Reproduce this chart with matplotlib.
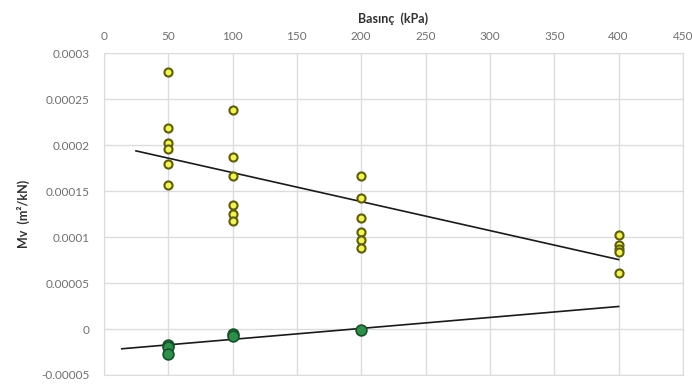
import matplotlib.pyplot as plt

plt.rcParams["font.family"] = ["Lato", "DejaVu Sans"]

# Mv values, grouped by pressure (kPa)
yellow_x = [50] * 6 + [100] * 6 + [200] * 6 + [400] * 5
yellow_y = [
    0.000280, 0.000219, 0.000202, 0.000196, 0.000179, 0.000157,
    0.000238, 0.000187, 0.000166, 0.000135, 0.000125, 0.000117,
    0.000166, 0.000143, 0.000121, 0.000105, 0.000097, 0.000088,
    0.000102, 0.000091, 0.000087, 0.000084, 0.000061,
]
green_x = [50, 50, 50, 100, 100, 200]
green_y = [-0.000017, -0.000020, -0.000027, -0.000005, -0.000008, -0.000001]

# trend line end points
upper_trend_x = [25, 400]
upper_trend_y = [0.0001937, 0.0000755]
lower_trend_x = [14, 400]
lower_trend_y = [-0.0000215, 0.0000245]

x_ticks = [0, 50, 100, 150, 200, 250, 300, 350, 400, 450]
y_ticks = [-0.00005, 0, 0.00005, 0.0001, 0.00015, 0.0002, 0.00025, 0.0003]
y_labels = ["-0.00005", "0", "0.00005", "0.0001", "0.00015", "0.0002", "0.00025", "0.0003"]

fig = plt.figure(figsize=(6.92, 3.85), dpi=100)
ax = fig.add_axes([0.150, 0.026, 0.837, 0.836])

ax.plot(upper_trend_x, upper_trend_y, color="#1a1a1a", lw=1.2, zorder=2)
ax.plot(lower_trend_x, lower_trend_y, color="#1a1a1a", lw=1.2, zorder=2)

ax.scatter(yellow_x, yellow_y, s=34, facecolor="#f2f25a", edgecolor="#5e5e0a",
           linewidth=1.5, zorder=3)
ax.scatter(green_x, green_y, s=60, facecolor="#2f8f4a", edgecolor="#16502a",
           linewidth=1.2, zorder=3)

ax.set_xlim(0, 450)
ax.set_ylim(-0.00005, 0.0003)
ax.set_xticks(x_ticks)
ax.set_yticks(y_ticks)
ax.set_yticklabels(y_labels)
ax.xaxis.tick_top()
ax.xaxis.set_label_position("top")
ax.tick_params(length=0, labelsize=8.5, labelcolor="#707070")
ax.tick_params(axis="x", pad=8)
ax.tick_params(axis="y", pad=10)

ax.grid(color="#dcdcdc", lw=1.0)
ax.set_axisbelow(True)
for s in ax.spines.values():
    s.set_color("#dcdcdc")

ax.set_xlabel("Basınç  (kPa)", fontsize=9, fontweight="bold", color="#303030", labelpad=6)
ax.set_ylabel("Mv  (m²/kN)", fontsize=9, fontweight="bold", color="#303030", labelpad=8)

fig.savefig("out.png", dpi=100)
